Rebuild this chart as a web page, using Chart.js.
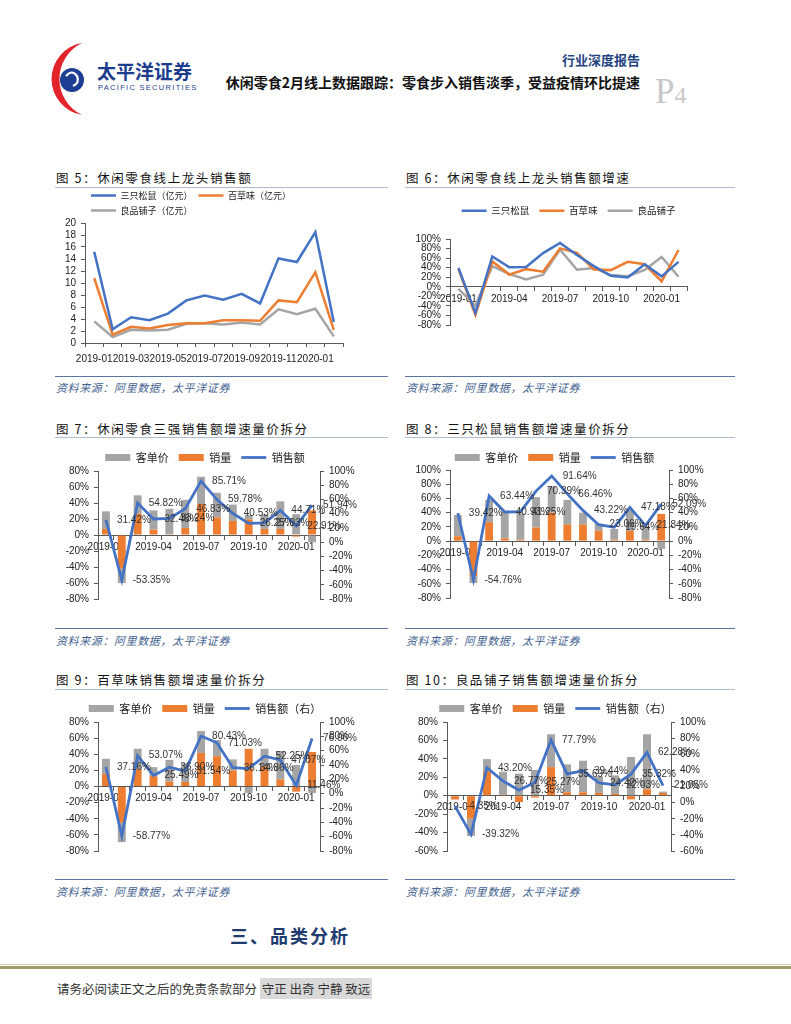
<!DOCTYPE html>
<html lang="zh-CN">
<head>
<meta charset="utf-8">
<script src="https://cdn.jsdelivr.net/npm/chart.js@4.4.1/dist/chart.umd.min.js"></script>
<style>
  body { margin: 0; background: #fff; }
  #page { position: relative; width: 791px; height: 1024px; overflow: hidden; font-family: "Noto Sans CJK SC", sans-serif; }
  .abs { position: absolute; white-space: nowrap; }
  .fig { font-size: 12.5px; letter-spacing: 1.6px; color: #111; line-height: 16px; }
  .rule { position: absolute; height: 0; border-top: 1.5px solid #aebdd2; }
  .srule { position: absolute; height: 0; border-top: 1.5px solid #5a76a0; }
  .src { font-size: 11px; font-style: italic; letter-spacing: 0.6px; color: #3f5f8f; line-height: 14px; }
  .box { position: absolute; }
</style>
</head>
<body>
<div id="page">
  <!-- header -->
  <svg class="abs" style="left:42px;top:41px" width="60" height="78" viewBox="0 0 60 78">
    <path d="M40 2 A36.5 36.5 0 0 0 40 74 A40 40 0 0 1 40 2 Z" fill="#e3232c"/>
    <circle cx="30" cy="39" r="12" fill="#1d3f93"/>
    <path d="M24 35 Q30 28 35 35 Q38 42 31 45" stroke="#fff" stroke-width="2.2" fill="none"/>
  </svg>
  <div class="abs" style="left:97px;top:59px;font-size:19px;font-weight:bold;color:#1c3c8e;line-height:24px">太平洋证券</div>
  <div class="abs" style="left:98px;top:83px;font-size:7.5px;letter-spacing:1.3px;color:#1c3c8e;font-family:'Liberation Sans',sans-serif">PACIFIC SECURITIES</div>
  <div class="abs" style="left:440px;top:51px;width:200px;text-align:right;font-size:13px;font-weight:bold;color:#23447f;line-height:18px">行业深度报告</div>
  <div class="abs" style="left:180px;top:73px;width:460px;text-align:right;font-size:14px;font-weight:bold;color:#111;line-height:18px">休闲零食2月线上数据跟踪：零食步入销售淡季，受益疫情环比提速</div>
  <div class="abs" style="left:655px;top:72px;font-family:'Liberation Serif',serif;color:#c8c8c8;line-height:40px"><span style="font-size:35px">P</span><span style="font-size:24px">4</span></div>

  <!-- row 1 -->
  <div class="abs fig" style="left:56px;top:170px">图 5：休闲零食线上龙头销售额</div>
  <div class="rule" style="left:55px;top:187px;width:333px"></div>
  <div class="box" style="left:50px;top:185px;width:301px;height:183px"><canvas id="c5"></canvas></div>
  <div class="srule" style="left:55px;top:376px;width:333px"></div>
  <div class="abs src" style="left:56px;top:380px">资料来源：阿里数据，太平洋证券</div>

  <div class="abs fig" style="left:406px;top:170px">图 6：休闲零食线上龙头销售额增速</div>
  <div class="rule" style="left:405px;top:187px;width:330px"></div>
  <div class="box" style="left:400px;top:196px;width:295px;height:140px"><canvas id="c6"></canvas></div>
  <div class="srule" style="left:405px;top:376px;width:330px"></div>
  <div class="abs src" style="left:406px;top:380px">资料来源：阿里数据，太平洋证券</div>

  <!-- row 2 -->
  <div class="abs fig" style="left:56px;top:421px">图 7：休闲零食三强销售额增速量价拆分</div>
  <div class="rule" style="left:55px;top:437px;width:333px"></div>
  <div class="box" style="left:50px;top:442px;width:310px;height:168px"><canvas id="c7"></canvas></div>
  <div class="srule" style="left:55px;top:628px;width:333px"></div>
  <div class="abs src" style="left:56px;top:633px">资料来源：阿里数据，太平洋证券</div>

  <div class="abs fig" style="left:406px;top:421px">图 8：三只松鼠销售额增速量价拆分</div>
  <div class="rule" style="left:405px;top:437px;width:330px"></div>
  <div class="box" style="left:400px;top:442px;width:309px;height:167px"><canvas id="c8"></canvas></div>
  <div class="srule" style="left:405px;top:628px;width:330px"></div>
  <div class="abs src" style="left:406px;top:633px">资料来源：阿里数据，太平洋证券</div>

  <!-- row 3 -->
  <div class="abs fig" style="left:56px;top:672px">图 9：百草味销售额增速量价拆分</div>
  <div class="rule" style="left:55px;top:689px;width:333px"></div>
  <div class="box" style="left:50px;top:693px;width:310px;height:169px"><canvas id="c9"></canvas></div>
  <div class="srule" style="left:55px;top:879px;width:333px"></div>
  <div class="abs src" style="left:56px;top:884px">资料来源：阿里数据，太平洋证券</div>

  <div class="abs fig" style="left:406px;top:672px">图 10：良品铺子销售额增速量价拆分</div>
  <div class="rule" style="left:405px;top:689px;width:330px"></div>
  <div class="box" style="left:400px;top:693px;width:311px;height:169px"><canvas id="c10"></canvas></div>
  <div class="srule" style="left:405px;top:879px;width:330px"></div>
  <div class="abs src" style="left:406px;top:884px">资料来源：阿里数据，太平洋证券</div>

  <div class="abs" style="left:230px;top:922px;font-size:18px;font-weight:bold;letter-spacing:2px;color:#1f3b6f;line-height:26px">三、品类分析</div>

  <!-- footer -->
  <div class="abs" style="left:0;top:964px;width:791px;height:1px;background:#d8d2b4"></div>
  <div class="abs" style="left:0;top:966px;width:791px;height:3px;background:#a39a6a"></div>
  <div class="abs" style="left:57px;top:980px;font-size:12.5px;color:#333;line-height:18px">请务必阅读正文之后的免责条款部分 <span style="background:#d9d9d9;padding:1px 2px">守正 出奇 宁静 致远</span></div>
</div>

<script>
// 月份
const months = ['2019-01', '2019-02', '2019-03', '2019-04', '2019-05', '2019-06', '2019-07',
  '2019-08', '2019-09', '2019-10', '2019-11', '2019-12', '2020-01', '2020-02'];

// 图5 销售额（亿元）
const sales5Sanzhi = [15.2, 2.3, 4.3, 3.8, 4.9, 7.1, 7.9, 7.2, 8.2, 6.6, 14.1, 13.5, 18.5, 3.5];
const sales5Baicao = [10.8, 1.4, 2.7, 2.4, 3.0, 3.3, 3.3, 3.8, 3.8, 3.7, 7.1, 6.8, 11.8, 2.2];
const sales5Liangpin = [3.6, 1.0, 2.2, 2.1, 2.2, 3.2, 3.3, 3.1, 3.4, 3.1, 5.6, 4.8, 5.7, 1.1];

// 销售额增速 %
const growthSanzhi = [39.42, -54.76, 63.44, 40.93, 41.25, 70.39, 91.64, 66.46, 43.22, 23.06, 19.64, 47.18, 21.84, 52.09];
const growthBaicao = [37.16, -58.77, 53.07, 25.49, 36.90, 31.54, 80.43, 71.03, 36.14, 34.86, 52.25, 47.07, 11.46, 76.96];
const growthLiangpin = [-4.35, -39.32, 43.20, 26.77, 15.35, 25.27, 77.79, 35.69, 39.44, 24.42, 22.03, 35.32, 62.28, 21.05];
const growthTop3 = [31.42, -53.35, 54.82, 32.48, 33.24, 46.83, 85.71, 59.78, 40.53, 26.25, 27.03, 44.71, 22.91, 51.94];

// 量价拆分 %（销量 / 客单价）
const vol7 = [7.6, -42, 26.8, 6.8, 1.0, 8.8, 38.8, 22, 17.6, 19.6, 7.6, 7.6, -2, 30.8];
const price7 = [22, -18, 22.8, 24, 31.8, 35.2, 34, 30.8, 20.4, 5.5, 18, 34.4, 26, -9];
const vol8 = [6.8, -49.5, 26.6, 4, 2, 19, 40, 23.5, 23.5, 14.5, 2, 14.5, 2, 38.3];
const price8 = [30, -9.5, 31.4, 37, 37, 42.8, 37, 34.5, 16.5, 9.8, 15, 28.5, 19, -11];
const vol9 = [15.6, -45, 21.6, 12.8, 6, 5.6, 41.6, 37.6, 20, 46.8, 24.8, 8.8, -6.4, 42.8];
const price9 = [18.8, -24, 25.2, 11.2, 27, 23, 27.2, 20, 13.6, -8, 22, 35.2, 26.8, -8];
const vol10 = [-4, -25, 26.5, 1, -6.8, -2, 31, 3.7, 3.7, 3, 2, -4, 7, 3];
const price10 = [-0.3, -18.6, 13.2, 25, 24, 28, 35.7, 30.3, 34.3, 18, 20, 42, 59.7, 1.5];

const BLUE = '#4472C4', ORANGE = '#ED7D31', GREY = '#A5A5A5', AX = '#595959';
const TICKFONT = { family: "'Liberation Sans', Arial, sans-serif", size: 10 };

Chart.defaults.animation = false;
Chart.defaults.color = '#222';
Chart.defaults.font.family = "'Liberation Sans', Arial, sans-serif";

// 固定图例高度
const legendHeight = {
  id: 'legendHeight',
  beforeLayout(chart, args, opts) {
    const lg = chart.legend;
    if (!lg || lg._fixed || !opts.h) return;
    const fit = lg.fit;
    lg.fit = function () { fit.call(this); this.height = opts.h; };
    lg._fixed = true;
  }
};

// 折线数据标签
const pointLabels = {
  id: 'pointLabels',
  afterDatasetsDraw(chart) {
    const ctx = chart.ctx;
    chart.data.datasets.forEach((ds, i) => {
      if (!ds.showValues) return;
      const meta = chart.getDatasetMeta(i);
      ctx.save();
      ctx.font = "10px 'Liberation Sans', Arial, sans-serif";
      ctx.fillStyle = '#333';
      ctx.textAlign = 'left';
      ctx.textBaseline = 'middle';
      meta.data.forEach((pt, j) => ctx.fillText(ds.data[j].toFixed(2) + '%', pt.x + 11, pt.y));
      ctx.restore();
    });
  }
};

function legendOpts(size, pad, align, full, sort) {
  return {
    position: 'top', align: align, fullSize: full,
    labels: {
      usePointStyle: true, pointStyleWidth: 25, boxHeight: 7, padding: pad,
      color: '#222', font: { family: "'Noto Sans CJK SC', sans-serif", size: size },
      sort: sort
    }
  };
}

function yAxis(pos, min, max, step, width, fmt) {
  return {
    position: pos, min: min, max: max,
    ticks: { stepSize: step, autoSkip: false, color: '#222', font: TICKFONT, padding: 5, callback: fmt },
    grid: { drawOnChartArea: false, tickLength: 4, color: AX },
    border: { color: AX },
    afterFit: s => { s.width = width; }
  };
}

function xAxis(every, pos, pad) {
  return {
    position: pos, offset: true, stacked: true,
    grid: { offset: true, drawOnChartArea: false, tickLength: 4, color: AX },
    border: { color: AX },
    ticks: {
      autoSkip: false, maxRotation: 0, color: '#222', font: TICKFONT, padding: pad || 2,
      callback: (v, i) => (i % every === 0 ? months[i] : '')
    }
  };
}

const pct = v => v + '%';
const lineDs = (label, data, color) => ({
  type: 'line', label: label, data: data, borderColor: color, backgroundColor: color,
  borderWidth: 2.5, pointRadius: 0, pointStyle: 'line', tension: 0, fill: false
});

// 图5
new Chart(document.getElementById('c5'), {
  type: 'line',
  data: {
    labels: months,
    datasets: [
      lineDs('三只松鼠（亿元）', sales5Sanzhi, BLUE),
      lineDs('百草味（亿元）', sales5Baicao, ORANGE),
      lineDs('良品铺子（亿元）', sales5Liangpin, GREY)
    ]
  },
  options: {
    responsive: true, maintainAspectRatio: false,
    layout: { padding: { right: 8 } },
    plugins: { legend: legendOpts(9, 6, 'start', false), legendHeight: { h: 38 }, tooltip: { enabled: false } },
    scales: {
      x: Object.assign(xAxis(2, 'bottom', 6), { afterFit: s => { s.height = 25; } }),
      y: yAxis('left', 0, 20, 2, 35)
    }
  },
  plugins: [legendHeight]
});

// 图6
new Chart(document.getElementById('c6'), {
  type: 'line',
  data: {
    labels: months,
    datasets: [
      lineDs('三只松鼠', growthSanzhi, BLUE),
      lineDs('百草味', growthBaicao, ORANGE),
      lineDs('良品铺子', growthLiangpin, GREY)
    ]
  },
  options: {
    responsive: true, maintainAspectRatio: false,
    layout: { padding: { right: 8 } },
    plugins: { legend: legendOpts(9.5, 10, 'center', false), legendHeight: { h: 43 }, tooltip: { enabled: false } },
    scales: {
      x: xAxis(3, { y: 0 }),
      y: yAxis('left', -80, 100, 20, 50, pct)
    }
  },
  plugins: [legendHeight]
});

// 图7-10 量价拆分
function splitChart(id, vol, price, growth, lineLabel, yMin, yMax, y1Min, yWidth, legendH) {
  new Chart(document.getElementById(id), {
    type: 'bar',
    data: {
      labels: months,
      datasets: [
        Object.assign(lineDs(lineLabel, growth, BLUE), { yAxisID: 'y1', showValues: true, borderWidth: 2.8 }),
        { label: '销量', data: vol, backgroundColor: ORANGE, pointStyle: 'rect', stack: 's', yAxisID: 'y',
          barPercentage: 0.5, categoryPercentage: 1 },
        { label: '客单价', data: price, backgroundColor: GREY, pointStyle: 'rect', stack: 's', yAxisID: 'y',
          barPercentage: 0.5, categoryPercentage: 1 }
      ]
    },
    options: {
      responsive: true, maintainAspectRatio: false,
      plugins: {
        legend: legendOpts(11, 10, 'center', true, (a, b) => b.datasetIndex - a.datasetIndex),
        legendHeight: { h: legendH }, tooltip: { enabled: false }
      },
      scales: {
        x: xAxis(3, { y: 0 }),
        y: Object.assign(yAxis('left', yMin, yMax, 20, yWidth, pct), { stacked: true }),
        y1: yAxis('right', y1Min, 100, 20, 40, pct)
      }
    },
    plugins: [legendHeight, pointLabels]
  });
}

splitChart('c7', vol7, price7, growthTop3, '销售额', -80, 80, -80, 48, 29);
splitChart('c8', vol8, price8, growthSanzhi, '销售额', -80, 100, -80, 50, 28);
splitChart('c9', vol9, price9, growthBaicao, '销售额（右）', -80, 80, -80, 48, 29);
splitChart('c10', vol10, price10, growthLiangpin, '销售额（右）', -60, 80, -60, 47, 29);
</script>
</body>
</html>
